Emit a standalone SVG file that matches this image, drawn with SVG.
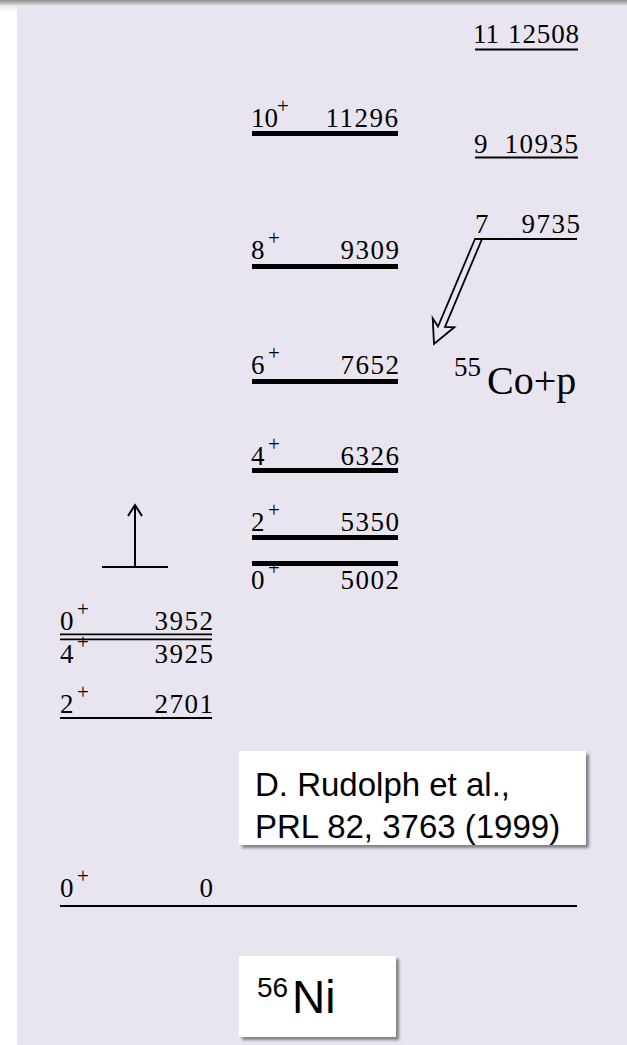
<svg xmlns="http://www.w3.org/2000/svg" width="627" height="1045" viewBox="0 0 627 1045">
<defs>
<linearGradient id="topbar" x1="0" y1="0" x2="0" y2="1">
<stop offset="0" stop-color="#8e8e8e"/>
<stop offset="1" stop-color="#d6d6d6"/>
</linearGradient>
<linearGradient id="topfade" x1="0" y1="0" x2="0" y2="1">
<stop offset="0" stop-color="#e4e4e4"/>
<stop offset="1" stop-color="#ffffff"/>
</linearGradient>
<filter id="shadow" x="-10%" y="-10%" width="130%" height="140%">
<feDropShadow dx="3" dy="3" stdDeviation="1.6" flood-color="#3a3a3a" flood-opacity="0.6"/>
</filter>
<style>
.t{font-family:"Liberation Serif","Times New Roman",serif;font-size:27px;fill:#000}
.n{letter-spacing:1.5px}
.p{font-family:"Liberation Serif","Times New Roman",serif;font-size:21px;fill:#000}
.thick{stroke:#000;stroke-width:5;fill:none}
.thin{stroke:#000;stroke-width:1.8;fill:none}
.s{font-family:"Liberation Sans",Arial,sans-serif;fill:#000}
.box{fill:#fff;filter:url(#shadow)}
</style>
</defs>
<rect x="0" y="0" width="627" height="1045" fill="#ffffff"/>
<rect x="17" y="0" width="610" height="1045" fill="#e9e5f0"/>
<rect x="0" y="5" width="17" height="6" fill="url(#topfade)"/>
<rect x="0" y="0" width="627" height="5" fill="url(#topbar)"/>

<g id="level-11-12508">
<text class="t" x="473" y="43">11</text>
<text class="t" x="508" y="43" style="letter-spacing:0.9px">12508</text>
<line class="thin" x1="475" y1="49.5" x2="578" y2="49.5"/>
</g>
<g id="level-10-11296">
<text class="t" x="251" y="127">10</text>
<text class="p" x="277" y="113">+</text>
<text class="t n" x="325.5" y="127">11296</text>
<line class="thick" x1="252" y1="133.5" x2="398" y2="133.5"/>
</g>
<g id="level-9-10935">
<text class="t" x="474" y="153">9</text>
<text class="t n" x="504.5" y="153">10935</text>
<line class="thin" x1="475" y1="157.5" x2="578" y2="157.5"/>
</g>
<g id="level-7-9735">
<text class="t" x="475" y="233">7</text>
<text class="t n" x="521.5" y="233">9735</text>
<line class="thin" x1="480" y1="239" x2="577" y2="239"/>
</g>
<g id="level-8-9309">
<text class="t" x="251" y="259">8</text>
<text class="p" x="268" y="245">+</text>
<text class="t n" x="340.5" y="259">9309</text>
<line class="thick" x1="252" y1="266.5" x2="398" y2="266.5"/>
</g>
<g id="level-6-7652">
<text class="t" x="251" y="374">6</text>
<text class="p" x="268" y="360">+</text>
<text class="t n" x="340.5" y="374">7652</text>
<line class="thick" x1="252" y1="381.5" x2="398" y2="381.5"/>
</g>
<g id="co55-p">
<text class="t" x="454" y="376">55</text>
<text class="t" x="487" y="394" style="font-size:40px">Co+p</text>
</g>
<g id="level-4-6326">
<text class="t" x="251" y="465">4</text>
<text class="p" x="268" y="451">+</text>
<text class="t n" x="340.5" y="465">6326</text>
<line class="thick" x1="252" y1="470.5" x2="398" y2="470.5"/>
</g>
<g id="level-2-5350">
<text class="t" x="251" y="531">2</text>
<text class="p" x="268" y="517">+</text>
<text class="t n" x="340.5" y="531">5350</text>
<line class="thick" x1="252" y1="537.5" x2="398" y2="537.5"/>
</g>
<g id="level-0-5002">
<line class="thick" x1="252" y1="563.5" x2="398" y2="563.5"/>
<text class="t" x="251" y="589">0</text>
<text class="p" x="268" y="575">+</text>
<text class="t n" x="340.5" y="589">5002</text>
</g>
<g id="level-0-3952">
<text class="t" x="60" y="630">0</text>
<text class="p" x="77" y="616">+</text>
<text class="t n" x="154.5" y="630">3952</text>
<line class="thin" x1="60" y1="634.3" x2="212" y2="634.3"/>
</g>
<g id="level-4-3925">
<line class="thin" x1="60" y1="639.3" x2="212" y2="639.3"/>
<text class="t" x="60" y="663">4</text>
<text class="p" x="77" y="649">+</text>
<text class="t n" x="154.5" y="663">3925</text>
</g>
<g id="level-2-2701">
<text class="t" x="60" y="713">2</text>
<text class="p" x="77" y="699">+</text>
<text class="t n" x="154.5" y="713">2701</text>
<line class="thin" x1="60" y1="718" x2="212" y2="718"/>
</g>
<g id="level-0-0">
<text class="t" x="60" y="897">0</text>
<text class="p" x="77" y="883">+</text>
<text class="t n" x="199.5" y="897">0</text>
<line class="thin" x1="60" y1="906" x2="577" y2="906" style="stroke-width:2"/>
</g>

<g id="connectors">
<polygon class="thin" points="475,239 438,326.5 432.7,318.3 434,344 454.3,327.3 445,327 482,239"/>
<line class="thin" x1="135" y1="567" x2="135" y2="506" style="stroke-width:2"/>
<polyline class="thin" points="128,516 135,505 142,516" style="stroke-width:2"/>
<line class="thin" x1="102" y1="567" x2="168" y2="567" style="stroke-width:2"/>
</g>

<g id="reference-box">
<rect class="box" x="239" y="751" width="347" height="94"/>
<text class="s" x="255" y="796" style="font-size:33px">D. Rudolph et al.,</text>
<text class="s" x="255" y="838" style="font-size:33px">PRL 82, 3763 (1999)</text>
</g>
<g id="ni56-box">
<rect class="box" x="239" y="956" width="157" height="81"/>
<text class="s" x="257" y="997" style="font-size:28px">56</text>
<text class="s" x="292" y="1013" style="font-size:46px">Ni</text>
</g>
</svg>
